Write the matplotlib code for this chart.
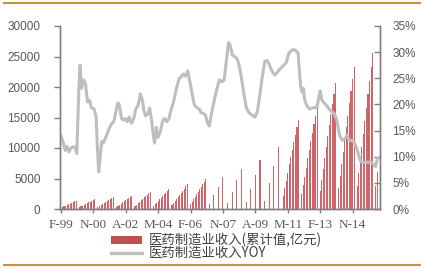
import matplotlib
matplotlib.use("Agg")
import matplotlib.pyplot as plt
from matplotlib.lines import Line2D
from matplotlib.patches import Patch

# ---------------- data ----------------
# cumulative revenue (亿元), months Feb..Dec for dense years
feb_dec = [2, 3, 4, 5, 6, 7, 8, 9, 10, 11, 12]
rev_1999 = [220, 340, 450, 560, 680, 790, 900, 1020, 1140, 1250, 1370]
rev_2000 = [270, 410, 540, 670, 810, 940, 1080, 1220, 1360, 1500, 1640]
rev_2001 = [310, 470, 630, 780, 940, 1100, 1260, 1420, 1580, 1740, 1910]
rev_2002 = [350, 540, 720, 900, 1080, 1270, 1450, 1630, 1820, 2000, 2190]
rev_2003 = [440, 690, 930, 1170, 1410, 1650, 1890, 2120, 2360, 2600, 2840]
rev_2004 = [500, 780, 1050, 1320, 1600, 1870, 2140, 2410, 2680, 2950, 3220]
rev_2005 = [620, 970, 1310, 1650, 2000, 2340, 2680, 3020, 3360, 3700, 4040]
rev_2006 = [750, 1170, 1580, 1990, 2400, 2810, 3220, 3630, 4040, 4450, 4860]
# quarterly bars only in 2007-2010
quarter_months = [2, 5, 8, 11]
rev_2007 = [770, 2240, 3660, 5190]
rev_2008 = [1040, 2790, 4700, 6500]
rev_2009 = [1150, 3220, 5520, 7980]
rev_2010 = [1370, 4200, 7050, 10220]
rev_2011 = [2100, 3400, 4600, 5900, 7300, 8500, 9700, 11000, 12200, 13400, 14600]
rev_2012 = [2500, 3900, 5300, 6800, 8300, 9700, 11100, 12500, 13900, 15300, 16800]
rev_2013 = [3000, 4800, 6500, 8300, 10200, 12000, 13700, 15500, 17200, 18900, 20650]
rev_2014 = [3400, 5400, 7400, 9400, 11400, 13400, 15300, 17300, 19300, 21300, 23300]
rev_2015 = [3700, 5900, 8000, 10100, 12300, 14400, 16600, 18800, 21000, 23200, 25500]
months_2016 = [2, 3]
rev_2016 = [3700, 6000]

# YOY (%) : positions in months since Feb-1999, and values
yoy_month = [0, 1.3, 2.8, 3.9, 5.2, 6.4, 7.7, 9.2, 10.3, 11.6, 12.4, 13.3, 14.6, 15.9,
             17.2, 18.5, 19.7, 21.5, 22.8, 23.6, 24.5, 25.3, 26.4, 27.5, 29.2, 31.3,
             32.8, 34.3, 35.6, 36.9, 37.8, 39.3, 40.4, 41.6, 42.9, 44.2, 45.7, 47.2,
             48.5, 50.0, 51.5, 52.8, 53.7, 54.9, 56.4, 57.5, 58.6, 59.7, 60.7, 61.8,
             62.9, 64.4, 66.1, 67.2, 68.7, 70.0, 71.5, 73.0, 74.7, 76.4, 77.9, 79.4,
             80.7, 82.2, 83.3, 84.4, 85.4, 86.5, 88.0, 89.7, 90.8, 92.3, 93.6, 95.1,
             96.2, 97.2, 98.7, 100.4, 101.5, 102.6, 104.3, 105.8, 107.3, 108.6, 109.5,
             111.2, 112.9, 114.4, 115.9, 117.2, 118.7, 120.2, 121.9, 123.6, 125.8,
             127.3, 128.8, 130.5, 132.2, 133.7, 135.2, 136.9, 138.7, 140.2, 142.3,
             144.5, 146.0, 147.7, 149.4, 150.9, 152.2, 153.7, 154.5, 155.4, 156.3,
             157.1, 158.0, 159.5, 161.0, 162.7, 164.4, 165.9, 167.0, 168.1, 169.1,
             170.9, 172.4, 173.9, 175.6, 177.3, 178.8, 179.9, 181.0, 182.5, 184.2,
             185.3, 186.8, 188.5, 190.2, 191.7, 193.2, 194.5, 196.0, 197.5, 199.2,
             200.9, 202.4, 203.9, 205.2]
yoy_value = [14.1, 12.9, 11.2, 12.0, 10.9, 11.6, 11.9, 11.8, 10.6, 22.8, 27.5, 23.1, 24.7, 24.0,
             20.5, 20.8, 19.4, 19.1, 17.6, 11.9, 7.1, 9.4, 12.9, 12.6, 13.8, 15.4,
             16.3, 16.7, 18.6, 20.3, 19.9, 17.3, 17.0, 17.3, 16.7, 17.6, 16.4, 17.3,
             19.1, 19.8, 22.0, 20.8, 18.9, 17.8, 18.2, 19.3, 17.3, 14.5, 12.6, 15.6,
             13.7, 14.8, 17.0, 17.3, 16.7, 17.3, 19.1, 20.5, 22.8, 24.8, 25.3, 25.8,
             25.4, 26.4, 24.8, 23.1, 21.5, 19.9, 19.4, 19.1, 18.4, 18.3, 18.0, 16.4,
             15.9, 17.6, 19.9, 22.1, 23.4, 24.7, 24.3, 24.7, 28.5, 31.8, 31.5,
             29.4, 29.1, 28.6, 26.9, 24.7, 21.8, 19.3, 18.4, 18.0, 17.6,
             18.6, 21.5, 25.3, 28.3, 28.4, 27.5, 26.3, 25.6, 26.1, 26.9,
             27.5, 28.0, 29.8, 30.3, 30.5, 30.3, 29.8, 26.6, 23.4, 22.4,
             23.1, 20.8, 19.7, 19.1, 19.3, 19.4, 19.4, 21.2, 22.6, 20.8,
             20.2, 19.7, 19.1, 18.6, 18.2, 17.0, 15.1, 13.8, 13.1, 13.5,
             14.1, 13.2, 13.1, 12.7, 11.6, 10.0, 9.0, 8.9, 9.0, 8.9,
             9.0, 8.6, 8.1, 9.7]

tick_pos = [0, 21, 42, 63, 84, 105, 126, 147, 168, 189]
tick_labels = ['F-99', 'N-00', 'A-02', 'M-04', 'F-06', 'N-07', 'A-09', 'M-11', 'F-13', 'N-14']
label_bar = '医药制造业收入(累计值,亿元)'
label_line = '医药制造业收入YOY'

# ---------------- assemble bars ----------------
bar_sets = [
    (1999, feb_dec, rev_1999), (2000, feb_dec, rev_2000), (2001, feb_dec, rev_2001),
    (2002, feb_dec, rev_2002), (2003, feb_dec, rev_2003), (2004, feb_dec, rev_2004),
    (2005, feb_dec, rev_2005), (2006, feb_dec, rev_2006),
    (2007, quarter_months, rev_2007), (2008, quarter_months, rev_2008),
    (2009, quarter_months, rev_2009), (2010, quarter_months, rev_2010),
    (2011, feb_dec, rev_2011), (2012, feb_dec, rev_2012), (2013, feb_dec, rev_2013),
    (2014, feb_dec, rev_2014), (2015, feb_dec, rev_2015), (2016, months_2016, rev_2016),
]
bx, bh = [], []
for yr, mons, vals in bar_sets:
    for mo, v in zip(mons, vals):
        bx.append((yr - 1999) * 12 + (mo - 2))
        bh.append(v)

# ---------------- figure ----------------
W, H = 424, 271
fig = plt.figure(figsize=(W / 100, H / 100), dpi=100)
ax = fig.add_axes([60 / W, 1 - 209 / H, 320 / W, 183 / H])
ax2 = ax.twinx()

grey = '#7f7f7f'
txt = '#595959'
bar_color = '#D06468'

ax.bar(bx, bh, width=0.7, color=bar_color, linewidth=0)
ax.set_ylim(0, 30000)
ax.set_xlim(-0.6, 206.8)
ax.set_yticks(range(0, 30001, 5000))
ax.set_yticklabels([str(v) for v in range(0, 30001, 5000)])
ax.set_xticks(tick_pos)
ax.set_xticklabels(tick_labels)

ax2.plot(yoy_month, yoy_value, color='#BEBEBE', linewidth=2.2, solid_capstyle='round',
         solid_joinstyle='round')
ax2.set_ylim(0, 35)
ax2.set_yticks(range(0, 36, 5))
ax2.set_yticklabels([f'{v}%' for v in range(0, 36, 5)])

for a in (ax, ax2):
    a.spines['top'].set_visible(False)
    for s in ('left', 'right', 'bottom'):
        a.spines[s].set_color(grey)
        a.spines[s].set_linewidth(1.0)
    a.set_facecolor('none')

ax.tick_params(axis='y', direction='out', length=4, width=1, color=grey, pad=10,
               labelsize=8.5, labelcolor=txt)
ax.tick_params(axis='x', direction='out', length=3, width=1, color=grey, pad=4,
               labelsize=9.5, labelcolor=txt)
ax2.tick_params(axis='y', direction='in', length=4, width=1, color=grey, pad=9,
                labelsize=8.5, labelcolor=txt)
for lab in ax.get_xticklabels():
    lab.set_family('Liberation Serif')
for lab in ax.get_yticklabels() + ax2.get_yticklabels():
    lab.set_family('Liberation Sans')

handles = [Patch(facecolor='#C0504D', edgecolor='none'),
           Line2D([0], [0], color='#BEBEBE', linewidth=2.4)]
fig.legend(handles, [label_bar, label_line], loc='upper left',
           bbox_to_anchor=(111 / W, 1 - 233 / H), frameon=False,
           prop={'family': ['Noto Sans CJK SC', 'DejaVu Sans'], 'size': 9.6},
           labelspacing=-0.1, handlelength=2.3, handleheight=0.5, handletextpad=0.5,
           borderpad=0, borderaxespad=0, labelcolor='#404040')

gold = '#C8913A'
fig.add_artist(Line2D([4 / W, 420 / W], [1 - 3 / H] * 2, color=gold, linewidth=1.5))
fig.add_artist(Line2D([4 / W, 420 / W], [1 - 265 / H] * 2, color=gold, linewidth=1.5))

fig.savefig('out.png', dpi=100)
